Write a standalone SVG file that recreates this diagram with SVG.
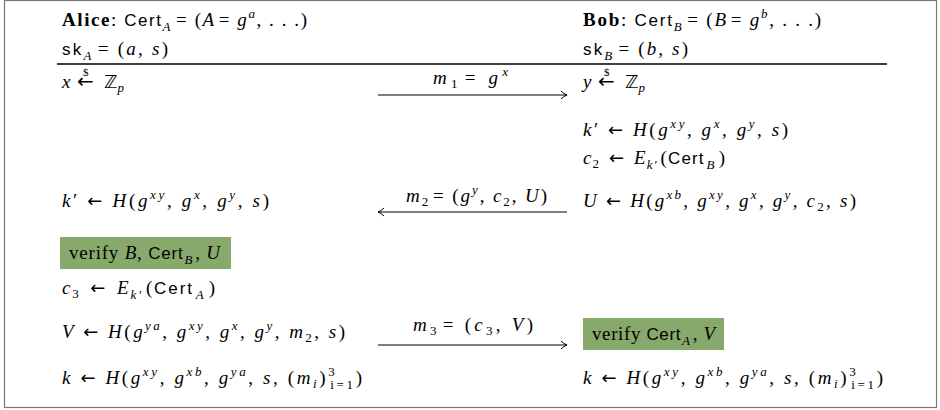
<svg xmlns="http://www.w3.org/2000/svg" width="940" height="410" viewBox="0 0 940 410">
<style>
text{font-family:"Liberation Serif","DejaVu Serif",serif;font-size:19px;fill:#000}
.i{font-style:italic}
.b{font-weight:bold}
.sf{font-family:"Liberation Sans","DejaVu Sans",sans-serif;font-size:17px}
.s{font-size:13px}
.d{font-size:11px}
.ar{font-family:"DejaVu Sans",sans-serif;font-size:18px}
.ar2{font-family:"DejaVu Sans",sans-serif;font-size:20px}
.bb{font-family:"DejaVu Sans",sans-serif;font-size:18px}
.box{fill:#87a96b}
.arr{stroke:#000;stroke-width:1.1;fill:none}
</style>
<defs>
<marker id="ah" markerWidth="10" markerHeight="10" refX="9" refY="5" orient="auto" markerUnits="userSpaceOnUse">
<path d="M3,1 Q6,4 9,5 Q6,6 3,9" fill="none" stroke="#000" stroke-width="1"/>
</marker>
</defs>
<rect x="4.5" y="0.5" width="932" height="407" fill="#fff" stroke="#777" stroke-width="1.2"/>
<line x1="57" y1="64" x2="887" y2="64" stroke="#000" stroke-width="1.3"/>

<g id="alice">
<text x="62" y="26" textLength="245" lengthAdjust="spacing"><tspan class="b">Alice</tspan>: <tspan class="sf">Cert</tspan><tspan class="s i" dy="5">A</tspan><tspan dy="-5" dx="4">= (</tspan><tspan class="i">A</tspan><tspan dx="3">= </tspan><tspan class="i">g</tspan><tspan class="s i" dy="-8">a</tspan><tspan dy="8">, . . .)</tspan></text>
<text x="62" y="55" textLength="106" lengthAdjust="spacing"><tspan class="sf">sk</tspan><tspan class="s i" dy="5">A</tspan><tspan dy="-5" dx="4">= (</tspan><tspan class="i">a</tspan>, <tspan class="i">s</tspan>)</text>
<text x="62" y="88" class="i">x</text>
<text x="77" y="88" class="ar2">←</text>
<text x="83" y="76" class="d">$</text>
<text x="104" y="88"><tspan class="bb">ℤ</tspan><tspan class="s i" dy="4">p</tspan></text>
</g>

<g id="bob">
<text x="583" y="26" textLength="238" lengthAdjust="spacing"><tspan class="b">Bob</tspan>: <tspan class="sf">Cert</tspan><tspan class="s i" dy="5">B</tspan><tspan dy="-5" dx="4">= (</tspan><tspan class="i">B</tspan><tspan dx="3">= </tspan><tspan class="i">g</tspan><tspan class="s i" dy="-8">b</tspan><tspan dy="8">, . . .)</tspan></text>
<text x="583" y="55" textLength="105" lengthAdjust="spacing"><tspan class="sf">sk</tspan><tspan class="s i" dy="5">B</tspan><tspan dy="-5" dx="4">= (</tspan><tspan class="i">b</tspan>, <tspan class="i">s</tspan>)</text>
<text x="583" y="88" class="i">y</text>
<text x="598" y="88" class="ar2">←</text>
<text x="604" y="76" class="d">$</text>
<text x="625" y="88"><tspan class="bb">ℤ</tspan><tspan class="s i" dy="4">p</tspan></text>
</g>

<g id="bob-kprime">
<text x="583" y="136" textLength="205" lengthAdjust="spacing"><tspan class="i">k</tspan>′ <tspan class="ar">←</tspan> <tspan class="i">H</tspan>(<tspan class="i">g</tspan><tspan class="s i" dy="-8">xy</tspan><tspan dy="8">, </tspan><tspan class="i">g</tspan><tspan class="s i" dy="-8">x</tspan><tspan dy="8">, </tspan><tspan class="i">g</tspan><tspan class="s i" dy="-8">y</tspan><tspan dy="8">, </tspan><tspan class="i">s</tspan>)</text>
</g>
<g id="bob-c2">
<text x="583" y="164" textLength="142" lengthAdjust="spacing"><tspan class="i">c</tspan><tspan class="s" dy="4">2</tspan><tspan dy="-4" dx="3"> </tspan><tspan class="ar">←</tspan><tspan dx="3"> </tspan><tspan class="i">E</tspan><tspan class="s i" dy="5">k′</tspan><tspan dy="-5" dx="3">(</tspan><tspan class="sf">Cert</tspan><tspan class="s i" dy="5" dx="2">B</tspan><tspan dy="-5" dx="3">)</tspan></text>
</g>
<g id="bob-U">
<text x="583" y="207" textLength="273" lengthAdjust="spacing"><tspan class="i">U</tspan> <tspan class="ar">←</tspan> <tspan class="i">H</tspan>(<tspan class="i">g</tspan><tspan class="s i" dy="-8">xb</tspan><tspan dy="8">, </tspan><tspan class="i">g</tspan><tspan class="s i" dy="-8">xy</tspan><tspan dy="8">, </tspan><tspan class="i">g</tspan><tspan class="s i" dy="-8">x</tspan><tspan dy="8">, </tspan><tspan class="i">g</tspan><tspan class="s i" dy="-8">y</tspan><tspan dy="8">, </tspan><tspan class="i">c</tspan><tspan class="s" dy="4">2</tspan><tspan dy="-4">, </tspan><tspan class="i">s</tspan>)</text>
</g>

<g id="alice-kprime">
<text x="62" y="207" textLength="207" lengthAdjust="spacing"><tspan class="i">k</tspan>′ <tspan class="ar">←</tspan> <tspan class="i">H</tspan>(<tspan class="i">g</tspan><tspan class="s i" dy="-8">xy</tspan><tspan dy="8">, </tspan><tspan class="i">g</tspan><tspan class="s i" dy="-8">x</tspan><tspan dy="8">, </tspan><tspan class="i">g</tspan><tspan class="s i" dy="-8">y</tspan><tspan dy="8">, </tspan><tspan class="i">s</tspan>)</text>
</g>

<g id="alice-verify">
<rect class="box" x="60" y="237" width="171" height="32"/>
<text x="69" y="259" textLength="151" lengthAdjust="spacing">verify <tspan class="i">B</tspan>, <tspan class="sf">Cert</tspan><tspan class="s i" dy="5" dx="1">B</tspan><tspan dy="-5" dx="2">, </tspan><tspan class="i">U</tspan></text>
</g>

<g id="alice-c3">
<text x="62" y="294" textLength="153" lengthAdjust="spacing"><tspan class="i">c</tspan><tspan class="s" dy="4">3</tspan><tspan dy="-4" dx="3"> </tspan><tspan class="ar">←</tspan><tspan dx="3"> </tspan><tspan class="i">E</tspan><tspan class="s i" dy="5">k′</tspan><tspan dy="-5" dx="3">(</tspan><tspan class="sf">Cert</tspan><tspan class="s i" dy="5" dx="2">A</tspan><tspan dy="-5" dx="3">)</tspan></text>
</g>

<g id="alice-V">
<text x="62" y="338" textLength="283" lengthAdjust="spacing"><tspan class="i">V</tspan> <tspan class="ar">←</tspan> <tspan class="i">H</tspan>(<tspan class="i">g</tspan><tspan class="s i" dy="-8">ya</tspan><tspan dy="8">, </tspan><tspan class="i">g</tspan><tspan class="s i" dy="-8">xy</tspan><tspan dy="8">, </tspan><tspan class="i">g</tspan><tspan class="s i" dy="-8">x</tspan><tspan dy="8">, </tspan><tspan class="i">g</tspan><tspan class="s i" dy="-8">y</tspan><tspan dy="8">, </tspan><tspan class="i">m</tspan><tspan class="s" dy="4">2</tspan><tspan dy="-4">, </tspan><tspan class="i">s</tspan>)</text>
</g>

<g id="bob-verify">
<rect class="box" x="583" y="318" width="141" height="32"/>
<text x="592" y="340" textLength="123" lengthAdjust="spacing">verify <tspan class="sf">Cert</tspan><tspan class="s i" dy="5" dx="1">A</tspan><tspan dy="-5" dx="2">, </tspan><tspan class="i">V</tspan></text>
</g>

<g id="alice-k">
<text x="62" y="384" textLength="300" lengthAdjust="spacing"><tspan class="i">k</tspan> <tspan class="ar">←</tspan> <tspan class="i">H</tspan>(<tspan class="i">g</tspan><tspan class="s i" dy="-8">xy</tspan><tspan dy="8">, </tspan><tspan class="i">g</tspan><tspan class="s i" dy="-8">xb</tspan><tspan dy="8">, </tspan><tspan class="i">g</tspan><tspan class="s i" dy="-8">ya</tspan><tspan dy="8">, </tspan><tspan class="i">s</tspan>, (<tspan class="i">m</tspan><tspan class="s i" dy="4">i</tspan><tspan dy="-4">)</tspan><tspan class="s" dy="-8">3</tspan><tspan class="s" dx="-7" dy="13">i=1</tspan><tspan dy="-5">)</tspan></text>
</g>

<g id="bob-k">
<text x="583" y="384" textLength="300" lengthAdjust="spacing"><tspan class="i">k</tspan> <tspan class="ar">←</tspan> <tspan class="i">H</tspan>(<tspan class="i">g</tspan><tspan class="s i" dy="-8">xy</tspan><tspan dy="8">, </tspan><tspan class="i">g</tspan><tspan class="s i" dy="-8">xb</tspan><tspan dy="8">, </tspan><tspan class="i">g</tspan><tspan class="s i" dy="-8">ya</tspan><tspan dy="8">, </tspan><tspan class="i">s</tspan>, (<tspan class="i">m</tspan><tspan class="s i" dy="4">i</tspan><tspan dy="-4">)</tspan><tspan class="s" dy="-8">3</tspan><tspan class="s" dx="-7" dy="13">i=1</tspan><tspan dy="-5">)</tspan></text>
</g>

<g id="connectors">
<line class="arr" x1="378" y1="95" x2="567" y2="95" marker-end="url(#ah)"/>
<text x="433" y="84" textLength="75" lengthAdjust="spacing"><tspan class="i">m</tspan><tspan class="s" dy="4">1</tspan><tspan dy="-4" dx="3">= </tspan><tspan class="i">g</tspan><tspan class="s i" dy="-8">x</tspan></text>
<line class="arr" x1="567" y1="212" x2="378" y2="212" marker-end="url(#ah)"/>
<text x="406" y="202" textLength="141" lengthAdjust="spacing"><tspan class="i">m</tspan><tspan class="s" dy="4">2</tspan><tspan dy="-4" dx="3">= (</tspan><tspan class="i">g</tspan><tspan class="s i" dy="-8">y</tspan><tspan dy="8">, </tspan><tspan class="i">c</tspan><tspan class="s" dy="4">2</tspan><tspan dy="-4">, </tspan><tspan class="i">U</tspan>)</text>
<line class="arr" x1="378" y1="345" x2="567" y2="345" marker-end="url(#ah)"/>
<text x="413" y="331" textLength="120" lengthAdjust="spacing"><tspan class="i">m</tspan><tspan class="s" dy="4">3</tspan><tspan dy="-4" dx="3">= (</tspan><tspan class="i">c</tspan><tspan class="s" dy="4">3</tspan><tspan dy="-4">, </tspan><tspan class="i">V</tspan>)</text>
</g>
</svg>
